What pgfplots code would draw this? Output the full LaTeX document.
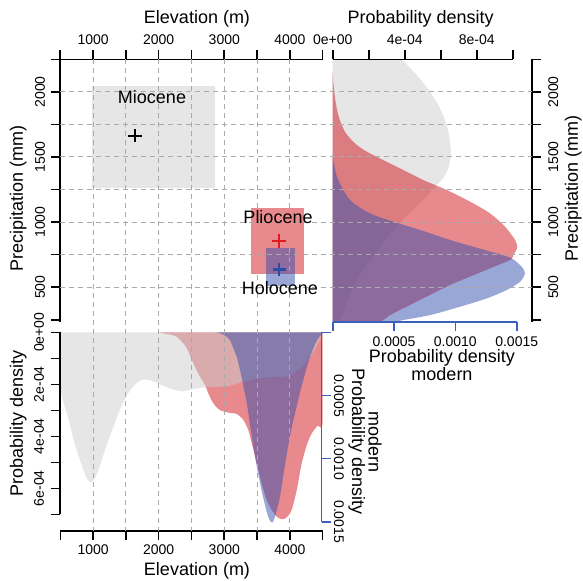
\documentclass[border=0pt]{standalone}
\usepackage{fontspec}
\setmainfont{Liberation Sans}
\usepackage{pgfplots}
\pgfplotsset{compat=1.18}

\definecolor{rred}{RGB}{210,20,30}
\definecolor{rblue}{RGB}{51,79,173}
\definecolor{gfill}{RGB}{230,230,230}
\definecolor{gbase}{RGB}{205,205,205}
\definecolor{gridc}{RGB}{170,170,170}
\definecolor{axblue}{RGB}{60,95,190}
\definecolor{xred}{RGB}{228,26,28}
\definecolor{xblue}{RGB}{45,75,170}

\tikzset{lab/.style={font=\fontsize{9}{10}\selectfont, anchor=center, inner sep=0pt}}
\pgfplotsset{
  rbase/.style={
    scale only axis, enlargelimits=false, scaled ticks=false,
    axis line style={black, line width=0.8pt},
    tick style={black, line width=0.8pt},
    major tick length=4.5pt, tick align=outside,
    tick label style={font=\fontsize{7}{8}\selectfont, inner sep=0pt},
    xticklabel style={anchor=center},
    yticklabel style={anchor=center},
  },
  blueax/.style={axis line style={axblue, line width=0.8pt}, tick style={axblue, line width=0.8pt}},
  dens/.style={draw=none, fill opacity=0.5, smooth, tension=0.5},
}

\begin{document}
\begin{tikzpicture}
\useasboundingbox (0,0) rectangle (291.5pt,-290pt);

% ---- right panel: precipitation densities
\begin{axis}[rbase, at={(166.35pt,-29.65pt)}, anchor=north west,
  width=99.5pt, height=131.2pt, xmin=0, xmax=1.1056e-3, ymin=235, ymax=2250,
  axis x line=none, axis y line*=right,
  ytick={250,500,...,2250}, yticklabels={,500,,1000,,1500,,2000,},
  yticklabel style={rotate=90}, yticklabel shift=6.3pt,
  ylabel={Precipitation (mm)},
  ylabel style={lab, at={(axis description cs:1.209,0.506)}}]
\addplot[fill=gfill, draw=none, smooth, tension=0.5] coordinates {
  (0,235) (0.37e-4,235) (0.5e-4,273) (0.96e-4,453) (1.70e-4,632) (2.63e-4,811)
  (3.37e-4,939) (3.70e-4,991) (4.25e-4,1067) (5.22e-4,1195) (5.78e-4,1285)
  (6.14e-4,1336) (6.42e-4,1413) (6.56e-4,1516) (6.52e-4,1618) (6.33e-4,1746)
  (5.96e-4,1873) (5.41e-4,2001) (4.67e-4,2129) (3.83e-4,2250) (3.6e-4,2280) (0,2280)} -- cycle;
\addplot[fill=rred, dens] coordinates {
  (0,235) (2.5e-4,235) (3.18e-4,286) (4.29e-4,363) (5.41e-4,441) (6.52e-4,517)
  (7.63e-4,581) (8.74e-4,645) (9.85e-4,709) (10.05e-4,749) (10.25e-4,804)
  (10.13e-4,863) (9.57e-4,965) (8.74e-4,1067) (7.63e-4,1157) (6.33e-4,1247)
  (5.03e-4,1323) (3.92e-4,1400) (2.81e-4,1476) (1.89e-4,1541) (1.24e-4,1605)
  (0.68e-4,1694) (0.31e-4,1822) (0.13e-4,1951) (0.03e-4,2078) (0,2150)} -- cycle;
\addplot[fill=rblue, dens] coordinates {
  (0,235) (3.3e-4,235) (3.92e-4,248) (5.41e-4,286) (7.07e-4,350) (8.56e-4,414)
  (9.67e-4,479) (10.41e-4,542) (10.68e-4,607) (10.5e-4,657) (9.94e-4,722)
  (9.11e-4,760) (7.81e-4,811) (6.52e-4,863) (4.85e-4,940) (3.37e-4,1003)
  (2.07e-4,1067) (0.96e-4,1170) (0.31e-4,1323) (0.1e-4,1424) (0,1515)} -- cycle;
\end{axis}

% right panel: top axis
\begin{axis}[rbase, at={(166.35pt,-29.65pt)}, anchor=north west,
  width=90pt, height=131.2pt, xmin=0, xmax=0.001, ymin=235, ymax=2250,
  axis x line*=top, axis y line=none,
  xtick={0,0.0002,0.0004,0.0006,0.0008,0.001},
  xticklabels={0e+00,,4e-04,,8e-04,}, xticklabel shift=5.15pt,
  xlabel={Probability density},
  xlabel style={lab, at={(axis description cs:0.488,1.156)}}]
\end{axis}

% right panel: bottom (modern) axis
\begin{axis}[rbase, blueax, at={(166.35pt,-29.65pt)}, anchor=north west,
  width=92pt, height=131.2pt, xmin=0, xmax=0.0015, ymin=235, ymax=2250,
  axis x line*=bottom, axis y line=none,
  xtick={0,0.0005,0.001,0.0015},
  xticklabels={,0.0005,0.0010,0.0015}, xticklabel shift=5.5pt,
  xlabel={Probability density\\modern},
  xlabel style={lab, align=center, font=\fontsize{9}{8.2}\selectfont,
    at={(axis description cs:0.594,-0.165)}}]
\end{axis}

% ---- bottom panel: elevation densities
\begin{axis}[rbase, hide axis, at={(30.15pt,-166.15pt)}, anchor=north west,
  width=131.2pt, height=99.2pt, xmin=500, xmax=4500, ymin=0, ymax=7.631e-4,
  y dir=reverse]
\addplot[fill=rred, dens] coordinates {
  (2000,0) (2070,0.04e-4) (2198,0.10e-4) (2274,0.17e-4) (2351,0.36e-4)
  (2427,0.6e-4) (2527,1.19e-4) (2630,1.71e-4) (2706,2.03e-4) (2757,2.35e-4)
  (2832,2.73e-4) (2934,2.99e-4) (3087,3.10e-4) (3189,3.14e-4) (3290,3.37e-4)
  (3366,3.76e-4) (3418,4.27e-4) (3494,5.04e-4) (3570,5.81e-4) (3646,6.45e-4)
  (3722,6.83e-4) (3799,7.09e-4) (3875,7.19e-4) (3951,7.12e-4) (4027,6.83e-4)
  (4104,6.07e-4) (4180,5.04e-4) (4256,4.35e-4) (4330,3.9e-4) (4420,3.6e-4)
  (4500,3.4e-4) (4500,0)} -- cycle;
\addplot[fill=gbase, dens] coordinates {
  (500,0) (500,2.09e-4) (622,3.31e-4) (724,4.33e-4) (826,5.10e-4) (900,5.6e-4)
  (960,5.78e-4) (1020,5.65e-4) (1080,5.3e-4) (1155,4.72e-4) (1283,3.82e-4)
  (1436,2.80e-4) (1588,2.15e-4) (1741,1.83e-4) (1893,1.87e-4) (2046,2.03e-4)
  (2198,2.18e-4) (2351,2.27e-4) (2503,2.20e-4) (2680,2.12e-4) (2884,2.10e-4)
  (3087,2.05e-4) (3290,1.90e-4) (3494,1.77e-4) (3697,1.72e-4) (3899,1.71e-4)
  (4052,1.58e-4) (4204,1.26e-4) (4357,0.75e-4) (4500,0.08e-4) (4500,0)} -- cycle;
\addplot[fill=rblue, dens] coordinates {
  (2884,0) (2980,0.08e-4) (3036,0.17e-4) (3087,0.3e-4) (3137,0.6e-4)
  (3189,0.94e-4) (3240,1.45e-4) (3290,2.05e-4) (3342,2.7e-4) (3366,3.1e-4)
  (3418,4.0e-4) (3450,4.5e-4) (3494,5.15e-4) (3570,6.1e-4) (3646,6.9e-4)
  (3687,7.2e-4) (3732,7.32e-4) (3773,7.09e-4) (3799,6.85e-4) (3849,6.32e-4)
  (3900,5.5e-4) (3951,4.7e-4) (4002,4.0e-4) (4052,3.4e-4) (4104,2.85e-4)
  (4155,2.3e-4) (4230,1.6e-4) (4306,0.95e-4) (4408,0.33e-4) (4500,0.02e-4)
  (4500,0)} -- cycle;
\end{axis}

% bottom panel: elevation axis
\begin{axis}[rbase, at={(30.15pt,-265.35pt)}, anchor=south west,
  width=131.2pt, height=99.2pt, xmin=500, xmax=4500, ymin=0, ymax=1,
  axis x line*=bottom, axis y line=none,
  xtick={500,1000,...,4500}, xticklabels={,1000,,2000,,3000,,4000,},
  xticklabel shift=5.15pt,
  xlabel={Elevation (m)},
  xlabel style={lab, at={(axis description cs:0.521,-0.2016)}}]
\end{axis}

% bottom panel: density axis (left)
\begin{axis}[rbase, at={(30.15pt,-166.15pt)}, anchor=north west,
  width=131.2pt, height=91pt, xmin=500, xmax=4500, ymin=0, ymax=0.0007,
  y dir=reverse, axis y line*=left, axis x line=none,
  ytick={0,0.0001,0.0002,0.0003,0.0004,0.0005,0.0006,0.0007},
  yticklabels={0e+00,,2e-04,,4e-04,,6e-04,},
  yticklabel style={rotate=90}, yticklabel shift=6.15pt,
  ylabel={Probability density},
  ylabel style={lab, at={(axis description cs:-0.160,0.5)}}]
\end{axis}

% bottom panel: modern density axis (right)
\begin{axis}[rbase, blueax, at={(30.15pt,-166.15pt)}, anchor=north west,
  width=130.7pt, height=94.7pt, xmin=500, xmax=4500, ymin=0, ymax=0.0015,
  y dir=reverse, axis y line*=right, axis x line=none,
  ytick={0,0.0005,0.001,0.0015},
  yticklabels={,0.0005,0.0010,0.0015},
  yticklabel style={rotate=-90}, yticklabel shift=4.15pt,
  ylabel={modern\\Probability density},
  ylabel style={lab, align=center, font=\fontsize{9}{8.2}\selectfont, rotate=-180,
    at={(axis description cs:1.166,0.421)}}]
\end{axis}

% ---- main panel: elevation vs precipitation
\begin{axis}[rbase, clip=false, at={(30.15pt,-29.65pt)}, anchor=north west,
  width=131.2pt, height=131.2pt, xmin=500, xmax=4500, ymin=235, ymax=2250,
  axis x line*=top, axis y line*=left,
  xtick={500,1000,...,4500}, xticklabels={,1000,,2000,,3000,,4000,},
  xticklabel shift=5.15pt,
  ytick={250,500,...,2250}, yticklabels={,500,,1000,,1500,,2000,},
  yticklabel style={rotate=90}, yticklabel shift=5.65pt,
  xlabel={Elevation (m)},
  xlabel style={lab, at={(axis description cs:0.521,1.156)}},
  ylabel={Precipitation (mm)},
  ylabel style={lab, at={(axis description cs:-0.160,0.471)}}]
\addplot[fill=gfill, draw=none] coordinates {(979,1264) (2858,1264) (2858,2045) (979,2045)} -- cycle;
\addplot[fill=rred, fill opacity=0.5, draw=none] coordinates {(3402,602) (4215,602) (4215,1106) (3402,1106)} -- cycle;
\addplot[fill=rblue, fill opacity=0.5, draw=none] coordinates {(3631,507) (4078,507) (4078,798) (3631,798)} -- cycle;
% dashed grid running through all panels
\pgfplotsinvokeforeach{1000,1500,...,4000}{
  \addplot[gridc, line width=0.5pt, dash pattern=on 2.5pt off 2pt] coordinates {(#1,2250) (#1,-1370)};
}
\pgfplotsinvokeforeach{500,750,...,2000}{
  \addplot[gridc, line width=0.5pt, dash pattern=on 2.5pt off 2pt] coordinates {(500,#1) (7686,#1)};
}
\addplot[only marks, mark=+, mark size=3.3pt, line width=1.2pt, black] coordinates {(1639,1662)};
\addplot[only marks, mark=+, mark size=3.3pt, line width=1.2pt, xred] coordinates {(3834,855)};
\addplot[only marks, mark=+, mark size=3.3pt, line width=1.2pt, xblue] coordinates {(3838,637)};
\node[font=\fontsize{9}{10}\selectfont] at (axis cs:1898,1961) {Miocene};
\node[font=\fontsize{9}{10}\selectfont] at (axis cs:3819,1039) {Pliocene};
\node[font=\fontsize{9}{10}\selectfont] at (axis cs:3849,494) {Holocene};
\end{axis}
\end{tikzpicture}
\end{document}
